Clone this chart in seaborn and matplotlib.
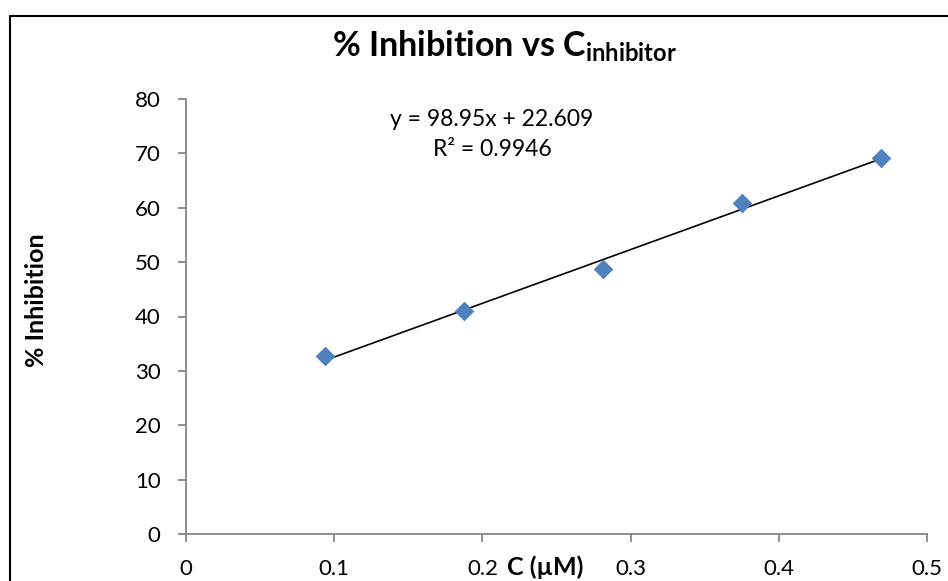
import matplotlib
matplotlib.use("Agg")
import matplotlib.pyplot as plt
import matplotlib.patches as mpatches
import seaborn as sns
import numpy as np
import pandas as pd

# Data
conc_uM = [0.09375, 0.1875, 0.28125, 0.375, 0.46875]
inhibition_pct = [32.67, 41.0, 48.7, 60.8, 69.1]
x_ticks = [0, 0.1, 0.2, 0.3, 0.4, 0.5]
x_tick_labels = ["0", "0.1", "0.2", "0.3", "0.4", "0.5"]
y_ticks = [0, 10, 20, 30, 40, 50, 60, 70, 80]
eq_text = "y = 98.95x + 22.609"
r2_text = "R² = 0.9946"

df = pd.DataFrame({"C": conc_uM, "Inhibition": inhibition_pct})

sns.set_theme(style="ticks")
plt.rcParams["font.family"] = ["Lato", "DejaVu Sans"]
plt.rcParams["mathtext.fontset"] = "custom"
plt.rcParams["mathtext.bf"] = "Lato:bold"
plt.rcParams["mathtext.rm"] = "Lato"

W, H = 948, 581
fig = plt.figure(figsize=(W / 100, H / 100), dpi=100)
ax = fig.add_axes([186 / W, 1 - 534 / H, (927 - 186) / W, (534 - 99) / H])

sns.regplot(
    data=df, x="C", y="Inhibition", ax=ax, ci=None, marker="D",
    scatter_kws=dict(s=88, color="#4F81BD", edgecolors="#4A7EBB", linewidths=0.6, zorder=3, alpha=1),
    line_kws=dict(color="black", lw=1.2, zorder=2),
)

ax.set_xlim(0, 0.5)
ax.set_ylim(0, 80)
ax.set_xticks(x_ticks)
ax.set_xticklabels(x_tick_labels)
ax.set_yticks(y_ticks)

gray = "#868686"
for side in ["top", "right"]:
    ax.spines[side].set_visible(False)
for side in ["left", "bottom"]:
    ax.spines[side].set_color(gray)
    ax.spines[side].set_linewidth(1.3)
ax.tick_params(axis="both", colors=gray, length=5.8, width=1.3, pad=12.5,
               labelsize=16, labelcolor="black", direction="out")

ax.set_ylabel("% Inhibition", fontsize=18, fontweight="bold", color="black")
ax.yaxis.set_label_coords((36 - 186) / (927 - 186), (534 - 300) / 435)
ax.yaxis.label.set_va("center")

ax.set_xlabel("C (µM)", fontsize=18, fontweight="bold", color="black")
ax.xaxis.set_label_coords((545 - 186) / 741, (534 - 567) / 435)
ax.xaxis.label.set_va("center")

ax.text((492 - 186) / 741, (534 - 120) / 435, eq_text, transform=ax.transAxes,
        ha="center", va="center", fontsize=16.5, color="black")
ax.text((492 - 186) / 741, (534 - 149) / 435, r2_text, transform=ax.transAxes,
        ha="center", va="center", fontsize=16.5, color="black")

fig.text(505 / W, 1 - 56 / H, r"% Inhibition vs C$_\mathbf{inhibitor}$",
         ha="center", va="baseline", fontsize=24.5, fontweight="bold", color="black")

# Chart area frame
frame = mpatches.Rectangle((9.5 / W, -0.1), 1.2, (1 - 15.5 / H) + 0.1,
                           transform=fig.transFigure, fill=False,
                           edgecolor="black", linewidth=1.5)
fig.patches.append(frame)

fig.savefig("out.png", dpi=100)
